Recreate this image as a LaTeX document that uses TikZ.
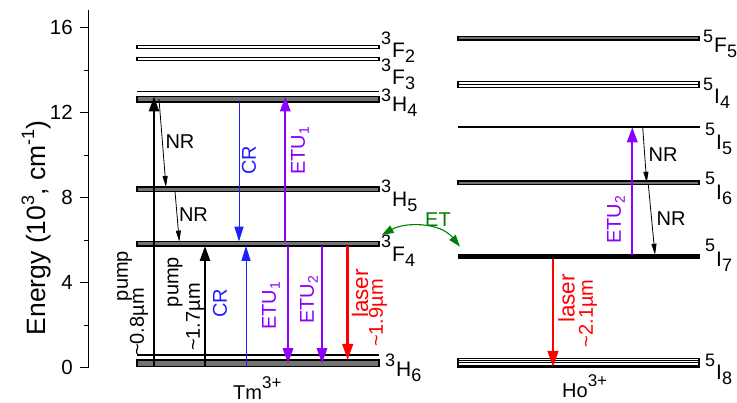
\documentclass[tikz,border=0pt]{standalone}
\usepackage{fontspec}
\setmainfont{Liberation Sans}
\usetikzlibrary{arrows.meta}
\definecolor{cblue}{RGB}{30,30,255}
\definecolor{cviol}{RGB}{140,0,255}
\definecolor{cred}{RGB}{255,0,0}
\definecolor{cgreen}{RGB}{0,128,0}
\newcommand\fsL{\fontsize{20}{16}\selectfont}
\newcommand\fsXL{\fontsize{22.5}{18}\selectfont}
\newcommand\fsS{\fontsize{17}{17}\selectfont}
\newcommand\fsT{\fontsize{14}{14}\selectfont}
\newcommand\lev[4]{\fontsize{21}{21}\selectfont{\fontsize{18}{18}\selectfont\raisebox{#1pt}{#2}}\kern1pt #3{\fontsize{18}{18}\selectfont\raisebox{-5pt}{#4}}}
\newcommand\etu[1]{ETU{\fsT\raisebox{-4pt}{#1}}}
\begin{document}
\begin{tikzpicture}[x=1pt,y=-1pt,
  tmlev/.style={minimum width=242pt, inner sep=0pt, outer sep=0pt},
  holev/.style={minimum width=241pt, inner sep=0pt, outer sep=0pt},
  dbl/.style={draw=black, fill=white, line width=1.2pt},
  band/.style={draw=black, fill=black!55, line width=1.6pt},
  solid band/.style={draw=black, fill=black, line width=0.6pt},
  thin lev/.style={line width=1.1pt},
  lab/.style={font=\fsL, inner sep=0pt, align=center},
  rlab/.style={lab, rotate=90},
  levlab/.style={anchor=base west, inner sep=0pt},
  pumparr/.style={line width=2.4pt, -{Triangle[length=15pt,width=10pt]}},
  nrarr/.style={line width=0.8pt, -{Triangle[length=11pt,width=5pt]}},
  crarr/.style={cblue, line width=1pt, -{Triangle[length=15pt,width=9pt]}},
  etuarr/.style={cviol, line width=1.7pt, -{Triangle[length=15pt,width=10.5pt]}},
  laserarr/.style={cred, line width=2.5pt, -{Triangle[length=16pt,width=10.5pt]}},
  etarr/.style={cgreen, line width=1.1pt, {Triangle[length=12pt,width=8pt]}-{Triangle[length=12pt,width=8pt]}}
]
\useasboundingbox (0,0) rectangle (737,403);

% ---------- axis ----------
\draw[line width=1.3pt] (88.5,10) -- (88.5,367.7);
\foreach \e in {0,4,8,12,16} {
  \draw[line width=1.2pt] (79.5,{367.7-21.25*\e}) -- (88.5,{367.7-21.25*\e});
  \node[anchor=east, inner sep=0pt, font=\fontsize{20.5}{20.5}\selectfont] (tick\e) at (73,{367.7-21.25*\e}) {\e};
}
\foreach \e in {2,6,10,14} {
  \draw[line width=1.2pt] (83.5,{367.7-21.25*\e}) -- (88.5,{367.7-21.25*\e});
}
\node[rotate=90, inner sep=0pt, font=\fontsize{26.5}{26.5}\selectfont] (ytitle) at (36,228)
  {Energy (10{\fontsize{18}{18}\selectfont\raisebox{11pt}{3}}, cm{\fontsize{18}{18}\selectfont\raisebox{11pt}{-1}})};

% ---------- Tm levels ----------
\node[tmlev, dbl, minimum height=3.0pt] (F2) at (258,46.75) {};
\node[tmlev, dbl, minimum height=2.8pt] (F3) at (258,59.1) {};
\draw[thin lev] (137,91.7) -- (379,91.7);
\node[tmlev, band, minimum height=5.5pt] (H4) at (258,99.25) {};
\node[tmlev, band, minimum height=4.5pt] (H5) at (258,189.25) {};
\node[tmlev, band, minimum height=4.3pt] (F4) at (258,243.75) {};
\draw[thin lev] (137,355) -- (379,355);
\node[tmlev, band, minimum height=6.5pt] (H6) at (258,363.25) {};

\node[levlab] (lF2) at (381,58) {\lev{13}{3}{F}{2}};
\node[levlab] (lF3) at (381,85) {\lev{13}{3}{F}{3}};
\node[levlab] (lH4) at (381,111.5) {\lev{10}{3}{H}{4}};
\node[levlab] (lH5) at (381,207) {\lev{14}{3}{H}{5}};
\node[levlab] (lF4) at (381,262) {\lev{14}{3}{F}{4}};
\node[levlab] (lH6) at (385,377) {\lev{10}{3}{H}{6}};
\node[anchor=base west, inner sep=0pt, font=\fsL] (tm) at (233,400) {Tm{\fsS\raisebox{11pt}{3+}}};

% ---------- Ho levels ----------
\node[holev, band, minimum height=3.6pt] (F5) at (578.5,38.5) {};
\node[holev, dbl, minimum height=5.8pt] (I4) at (578.5,84.6) {};
\draw[thin lev] (458,84.6) -- (699,84.6);
\node[holev, solid band, minimum height=1.0pt] (I5) at (578.5,127.3) {};
\node[holev, band, minimum height=3.2pt] (I6) at (578.5,182.75) {};
\node[holev, solid band, minimum height=4.0pt] (I7) at (578.5,256.75) {};
\node[holev, dbl, minimum height=8.5pt] (I8) at (578.5,362.75) {};
\foreach \yy in {360.5,362.75,365.0} {\draw[line width=0.9pt] (458,\yy) -- (699,\yy);}

\node[levlab] (lF5) at (703,53) {\lev{10}{5}{F}{5}};
\node[levlab] (lI4) at (703,104) {\lev{13}{5}{I}{4}};
\node[levlab] (lI5) at (705,150) {\lev{14}{5}{I}{5}};
\node[levlab] (lI6) at (705,200) {\lev{15}{5}{I}{6}};
\node[levlab] (lI7) at (705,266.5) {\lev{15}{5}{I}{7}};
\node[levlab] (lI8) at (705,380) {\lev{13}{5}{I}{8}};
\node[anchor=base west, inner sep=0pt, font=\fsL] (ho) at (562,398) {Ho{\fsS\raisebox{11pt}{3+}}};

% ---------- Tm transitions ----------
\coordinate (xp1) at (154,0);
\coordinate (xp2) at (205,0);
\coordinate (xn1a) at (159,0);
\coordinate (xn1b) at (166,0);
\coordinate (xn2a) at (175,0);
\coordinate (xn2b) at (179.3,0);
\coordinate (xcr1) at (239,0);
\coordinate (xcr2) at (246,0);
\coordinate (xe1u) at (285.3,0);
\coordinate (xe1d) at (288,0);
\coordinate (xe2d) at (322,0);
\coordinate (xlas) at (347.7,0);

\draw[pumparr] (xp1 |- H6.south) -- (xp1 |- H4.north);
\draw[pumparr] (xp2 |- H6.south) -- (xp2 |- F4.south);
\draw[nrarr] (xn1a |- H4.center) -- (xn1b |- H5.north);
\draw[nrarr] (xn2a |- H5.south) -- (xn2b |- F4.north);
\draw[crarr] (xcr1 |- H4.south) -- (xcr1 |- F4.north);
\draw[crarr] (xcr2 |- H6.south) -- (xcr2 |- F4.south);
\draw[etuarr] (xe1u |- F4.north) -- (xe1u |- H4.north);
\draw[etuarr, line width=1.3pt] (xe1d |- F4.south) -- (xe1d |- H6.center);
\draw[etuarr, line width=1.3pt] (xe2d |- F4.south) -- (xe2d |- H6.center);
\draw[laserarr] (xlas |- F4.south) -- (xlas |- H6.north);

\node[lab] (nr1) at (180,141.5) {NR};
\node[lab] (nr2) at (193.5,214.5) {NR};
\node[rlab, text=cblue] (crt) at (249,160) {CR};
\node[rlab, text=cblue] (crb) at (220,303) {CR};
\node[rlab, text=cviol] (etu1t) at (300,151) {\etu{1}};
\node[rlab, text=cviol] (etu1b) at (271,306) {\etu{1}};
\node[rlab, text=cviol] (etu2b) at (309,300) {\etu{2}};
\node[rlab] (pump1a) at (124.5,276) {pump};
\node[rlab] (pump1b) at (139,322) {\textasciitilde0.8µm};
\node[rlab] (pump2a) at (175,282) {pump};
\node[rlab] (pump2b) at (195,317) {\textasciitilde1.7µm};
\node[rlab, text=cred, font=\fsXL] (las1a) at (360,293.5) {laser};
\node[rlab, text=cred] (las1b) at (378,313) {\textasciitilde1.9µm};

% ---------- Ho transitions ----------
\coordinate (xh1) at (632.3,0);
\coordinate (xhn1a) at (642.7,0);
\coordinate (xhn1b) at (646.7,0);
\coordinate (xhn2a) at (648.3,0);
\coordinate (xhn2b) at (655,0);
\coordinate (xhl) at (553,0);

\draw[etuarr] (xh1 |- I7.north) -- (xh1 |- I5.center);
\draw[nrarr] (xhn1a |- I5.center) -- (xhn1b |- I6.center);
\draw[nrarr] (xhn2a |- I6.south) -- (xhn2b |- I7.north);
\draw[laserarr] (xhl |- I7.south) -- (xhl |- I8.south);

\node[lab] (hnr1) at (663,154.5) {NR};
\node[lab] (hnr2) at (671,218.5) {NR};
\node[rlab, text=cviol] (hetu2) at (616,220) {\etu{2}};
\node[rlab, text=cred, font=\fsXL] (las2a) at (566.5,298.5) {laser};
\node[rlab, text=cred] (las2b) at (588,313.5) {\textasciitilde2.1µm};

% ---------- ET ----------
\coordinate (etL) at (381.7,235);
\coordinate (etR) at (460,246.7);
\draw[etarr] (etL) .. controls (405,222) and (440,222) .. (etR);
\node[lab, text=cgreen] (et) at (438,220) {ET};
\end{tikzpicture}
\end{document}
